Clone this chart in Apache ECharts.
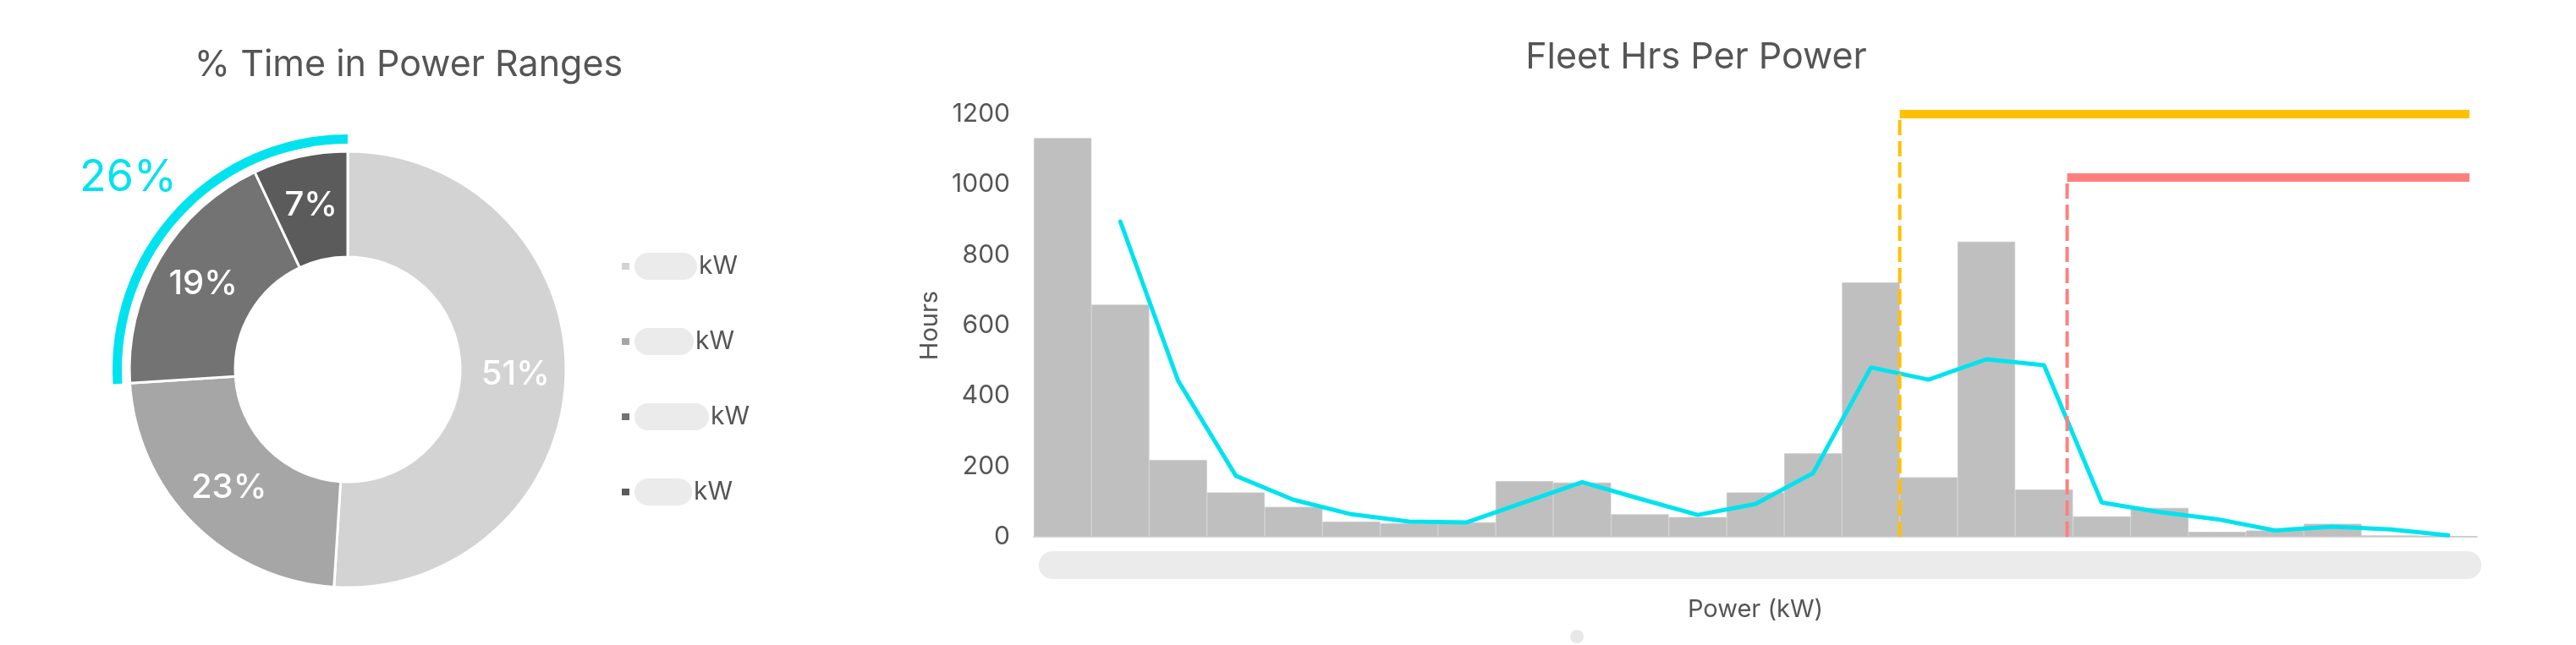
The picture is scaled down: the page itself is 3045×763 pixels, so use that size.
<!DOCTYPE html>
<html>
<head>
<meta charset="utf-8">
<script src="https://cdn.jsdelivr.net/npm/echarts@6/dist/echarts.min.js"></script>
<style>
  html, body { margin: 0; padding: 0; background: #ffffff; }
  #chart { width: 3045px; height: 763px; }
</style>
</head>
<body>
<div id="chart"></div>
<script>
// ---------- data ----------
const pieTitle = '% Time in Power Ranges';
const rangeNames = ['Range 1', 'Range 2', 'Range 3', 'Range 4'];
const rangePercents = [51, 23, 19, 7];
const rangeColors = ['#d3d3d3', '#a6a6a6', '#737373', '#5b5b5b'];

const barTitle = 'Fleet Hrs Per Power';
const powerBins = ['b1','b2','b3','b4','b5','b6','b7','b8','b9','b10','b11','b12','b13',
                   'b14','b15','b16','b17','b18','b19','b20','b21','b22','b23','b24','b25'];
const fleetHours = [1132, 659, 218, 126, 85, 43, 38, 41, 158, 154, 64, 56, 126,
                    237, 722, 169, 838, 134, 58, 82, 14, 18, 37, 4, 2];
const trendHours = [null, 895, 443, 173, 105, 64, 43, 41, 98, 155, 108, 62, 93,
                    181, 481, 446, 504, 487, 97, 70, 50, 18, 29, 21, 4];
const yTicks = [0, 200, 400, 600, 800, 1000, 1200];
// thresholds: position along the bin scale (bin i spans [i, i+1]) and level in hours
const orangeThreshold = { x: 15, level: 1200, end: 24.87 };
const redThreshold = { x: 17.9, level: 1020, end: 24.87 };

// ---------- chart ----------
const FONT = 'Inter';
const TEXT = '#555555';
const chart = echarts.init(document.getElementById('chart'), null, { renderer: 'canvas' });

const highlightShare = rangePercents[2] + rangePercents[3];
const restShare = rangePercents[0] + rangePercents[1];
const legendBoxWidths = [74, 70, 88, 68];

const option = {
  animation: false,
  backgroundColor: '#ffffff',
  textStyle: { fontFamily: FONT },
  title: [
    { text: pieTitle, left: 478, textAlign: 'center', top: 51,
      textStyle: { fontFamily: FONT, fontSize: 43, fontWeight: 400, color: TEXT } },
    { text: barTitle, left: 2000, textAlign: 'center', top: 42,
      textStyle: { fontFamily: FONT, fontSize: 43, fontWeight: 400, color: TEXT } }
  ],
  legend: {
    orient: 'vertical',
    left: 728,
    top: 294,
    itemGap: 57,
    itemWidth: 11,
    itemHeight: 10,
    icon: 'rect',
    data: rangeNames,
    formatter: function (name) {
      const i = rangeNames.indexOf(name);
      return '{box' + i + '|}{kw|kW}';
    },
    textStyle: {
      fontFamily: FONT,
      color: TEXT,
      rich: {
        box0: { width: legendBoxWidths[0], height: 32, backgroundColor: '#ebebeb', borderRadius: 16 },
        box1: { width: legendBoxWidths[1], height: 32, backgroundColor: '#ebebeb', borderRadius: 16 },
        box2: { width: legendBoxWidths[2], height: 32, backgroundColor: '#ebebeb', borderRadius: 16 },
        box3: { width: legendBoxWidths[3], height: 32, backgroundColor: '#ebebeb', borderRadius: 16 },
        kw: { fontSize: 30, color: TEXT, fontFamily: FONT, padding: [0, 0, 0, 2] }
      }
    }
  },
  grid: { left: 1222, right: 117, top: 135, bottom: 128 },
  xAxis: [
    {
      type: 'category',
      data: powerBins,
      boundaryGap: true,
      axisLine: { show: true, lineStyle: { color: '#d9d9d9', width: 2 } },
      axisTick: { show: false },
      axisLabel: { show: false },
      name: 'Power (kW)',
      nameLocation: 'middle',
      nameGap: 72,
      nameTextStyle: { fontFamily: FONT, fontSize: 29, color: TEXT }
    },
    {
      type: 'value',
      min: 0,
      max: powerBins.length,
      show: false
    }
  ],
  yAxis: {
    type: 'value',
    min: yTicks[0],
    max: yTicks[yTicks.length - 1],
    interval: yTicks[1] - yTicks[0],
    axisLine: { show: false },
    axisTick: { show: false },
    splitLine: { show: false },
    axisLabel: { fontFamily: FONT, fontSize: 30, color: TEXT, margin: 28,
                 formatter: function (v) { return String(v); } },
    name: 'Hours',
    nameLocation: 'middle',
    nameGap: 103,
    nameRotate: 90,
    nameTextStyle: { fontFamily: FONT, fontSize: 29, color: TEXT }
  },
  series: [
    {
      name: 'ranges',
      type: 'pie',
      center: [411, 437],
      radius: [133, 258],
      startAngle: 90,
      clockwise: true,
      avoidLabelOverlap: false,
      itemStyle: { borderColor: '#ffffff', borderWidth: 3 },
      label: {
        show: true,
        position: 'inside',
        formatter: '{c}%',
        fontFamily: FONT,
        fontSize: 40,
        fontWeight: 500,
        color: '#ffffff'
      },
      labelLine: { show: false },
      emphasis: { disabled: true },
      data: rangeNames.map((n, i) => ({ name: n, value: rangePercents[i], itemStyle: { color: rangeColors[i] } }))
    },
    {
      name: 'highlight',
      type: 'pie',
      center: [411, 437],
      radius: [267, 278],
      startAngle: 90,
      clockwise: true,
      silent: true,
      avoidLabelOverlap: false,
      emphasis: { disabled: true },
      labelLine: { show: false, length: 32, length2: 0 },
      labelLayout: { dx: 24, dy: -14 },
      data: [
        { name: 'rest', value: restShare, itemStyle: { color: 'rgba(0,0,0,0)' }, label: { show: false } },
        { name: 'upper', value: highlightShare, itemStyle: { color: '#00e3ee' },
          label: { show: true, position: 'outside', formatter: '{c}%', fontFamily: FONT,
                   fontSize: 52, fontWeight: 400, color: '#00e3ee', distanceToLabelLine: 0 } }
      ]
    },
    {
      name: 'Fleet Hours',
      type: 'bar',
      xAxisIndex: 0,
      barCategoryGap: '0%',
      itemStyle: { color: '#bfbfbf', borderColor: '#c9c9c9', borderWidth: 0.8 },
      emphasis: { disabled: true },
      data: fleetHours
    },
    {
      name: 'Trend',
      type: 'line',
      xAxisIndex: 0,
      showSymbol: false,
      symbol: 'none',
      lineStyle: { color: '#00e3ee', width: 5, cap: 'round' },
      connectNulls: false,
      data: trendHours
    },
    {
      name: 'orangeVertical',
      type: 'line',
      xAxisIndex: 1,
      symbol: 'none',
      lineStyle: { color: '#ffc000', width: 4, type: [18, 7] },
      data: [[orangeThreshold.x, 0], [orangeThreshold.x, orangeThreshold.level]]
    },
    {
      name: 'orangeLevel',
      type: 'line',
      xAxisIndex: 1,
      symbol: 'none',
      lineStyle: { color: '#ffc000', width: 10, cap: 'butt' },
      data: [[orangeThreshold.x, orangeThreshold.level], [orangeThreshold.end, orangeThreshold.level]]
    },
    {
      name: 'redVertical',
      type: 'line',
      xAxisIndex: 1,
      symbol: 'none',
      lineStyle: { color: '#ff7f7f', width: 4, type: [18, 7] },
      data: [[redThreshold.x, 0], [redThreshold.x, redThreshold.level]]
    },
    {
      name: 'redLevel',
      type: 'line',
      xAxisIndex: 1,
      symbol: 'none',
      lineStyle: { color: '#ff7f7f', width: 10, cap: 'butt' },
      data: [[redThreshold.x, redThreshold.level], [redThreshold.end, redThreshold.level]]
    }
  ],
  graphic: [
    { type: 'rect', shape: { x: 1228, y: 652, width: 1705, height: 33, r: 16 },
      style: { fill: '#ebebeb' }, silent: true },
    { type: 'circle', shape: { cx: 1864, cy: 753, r: 8 },
      style: { fill: '#e8e8e8' }, silent: true }
  ]
};

chart.setOption(option);
</script>
</body>
</html>
